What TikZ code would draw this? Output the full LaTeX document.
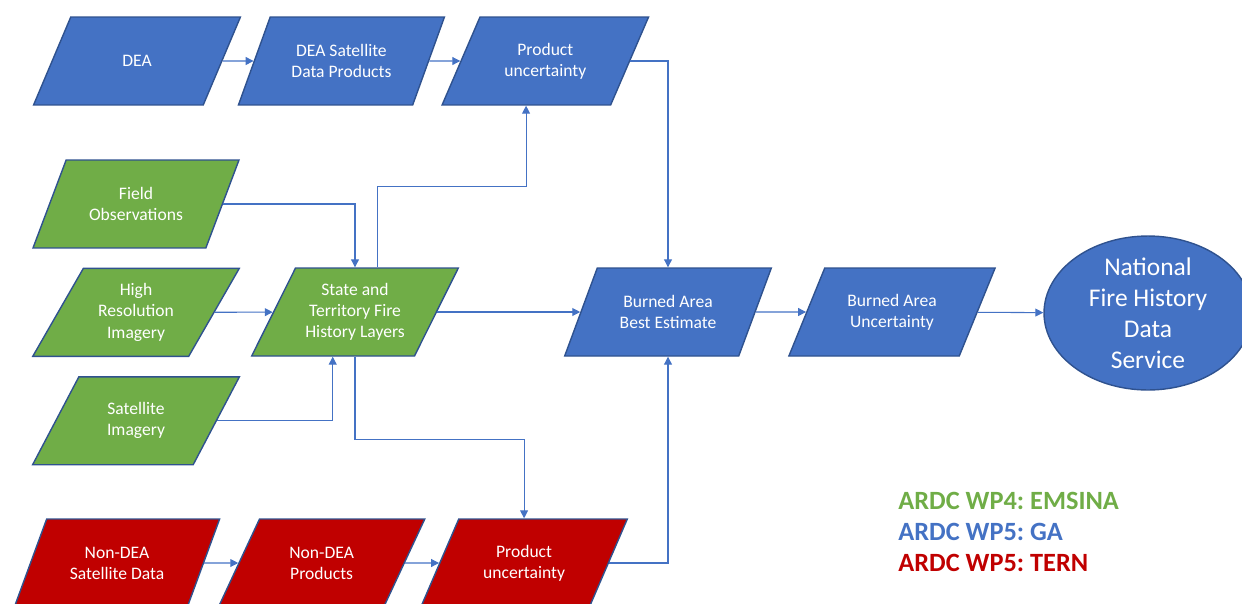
\documentclass[tikz,border=0pt]{standalone}
\usepackage{fontspec}
\setmainfont{Carlito}
\usepackage{tikz}
\usetikzlibrary{positioning,chains,shapes.geometric,arrows.meta,calc}

\definecolor{gablue}{HTML}{4472C4}
\definecolor{edgeblue}{HTML}{2F528F}
\definecolor{emgreen}{HTML}{70AD47}
\definecolor{ternred}{HTML}{C00000}

\frenchspacing
\begin{document}
\begin{tikzpicture}[x=0.02cm,y=-0.02cm,
	every node/.style={text=white,font=\fontsize{10}{12}\selectfont,align=center},
	databox/.style={trapezium,trapezium left angle=58,trapezium right angle=122,
		trapezium stretches=true,minimum width=4.14cm,minimum height=1.76cm,
		draw=edgeblue,line width=0.8pt,inner sep=1pt},
	gabox/.style={databox,fill=gablue},
	emsbox/.style={databox,fill=emgreen},
	ternbox/.style={databox,fill=ternred},
	service/.style={ellipse,draw=edgeblue,line width=0.8pt,fill=gablue,
		minimum width=4.16cm,minimum height=3.08cm,inner sep=-10pt,
		font=\fontsize{14.5}{17.6}\selectfont},
	flow/.style={draw=gablue,line width=0.6pt,-{Triangle[length=4.5pt,width=4.5pt]}},
	key/.style={anchor=west,align=left,inner sep=0pt,
		font=\fontsize{15}{17.6}\selectfont\bfseries}
	]
	\useasboundingbox (0,0) rectangle (1242,603);
	
	% the DEA row
	\begin{scope}[start chain=going right,node distance=0.62cm]
	\node[gabox,on chain] (dea) at (137,61) {DEA};
	\node[gabox,on chain] (deasat) {DEA Satellite\\Data Products};
	\node[gabox,on chain] (produnc) {Product\\uncertainty};
	\end{scope}
	
	% the EMSINA inputs
	\begin{scope}[start chain=going below,node distance=0.38cm]
	\node[emsbox,on chain] (field) at (136,204) {Field\\Observations};
	\node[emsbox,on chain] (hires) {High\\Resolution\\Imagery};
	\node[emsbox,on chain] (satimg) {Satellite\\Imagery};
	\end{scope}
	
	% the non-DEA row
	\begin{scope}[start chain=going right,node distance=0.68cm]
	\node[ternbox,on chain] (nondea) at (117,563) {Non-DEA\\Satellite Data};
	\node[ternbox,on chain] (nondeaprod) {Non-DEA\\Products};
	\node[ternbox,on chain] (produncred) {Product\\uncertainty};
	\end{scope}
	
	% the middle row
	\node[emsbox] (state) at (355,312) {State and\\Territory Fire\\History Layers};
	\node[gabox] (best) at (668,312) {Burned Area\\Best Estimate};
	\node[gabox] (burnunc) at (892,312) {Burned Area\\Uncertainty};
	\node[service] (nfhds) at (1148,313) {National\\Fire History\\Data\\Service};
	
	% the key
	\node[key] (wps) at (898,532) {\textcolor{emgreen}{ARDC WP4: EMSINA}\\
		\textcolor{gablue}{ARDC WP5: GA}\\\textcolor{ternred}{ARDC WP5: TERN}};
	
	% the edges
	\draw[flow] (dea) -- (deasat);
	\draw[flow] (deasat) -- (produnc);
	\draw[flow] (produnc.east) -| (best.north);
	\draw[flow] (field.east) -| (state.north);
	\draw[flow] (hires) -- (state);
	\draw[flow] (satimg.east) -| (state.bottom side);
	\draw[flow] (state.top side) -- ++(0,-81) -| (produnc.bottom side);
	\draw[flow] (state.south) -- ++(0,83) -| (produncred.north);
	\draw[flow] (state) -- (best);
	\draw[flow] (produncred.east) -| (best.south);
	\draw[flow] (best) -- (burnunc);
	\draw[flow] (burnunc) -- (nfhds);
	\draw[flow] (nondea) -- (nondeaprod);
	\draw[flow] (nondeaprod) -- (produncred);
\end{tikzpicture}
\end{document}
